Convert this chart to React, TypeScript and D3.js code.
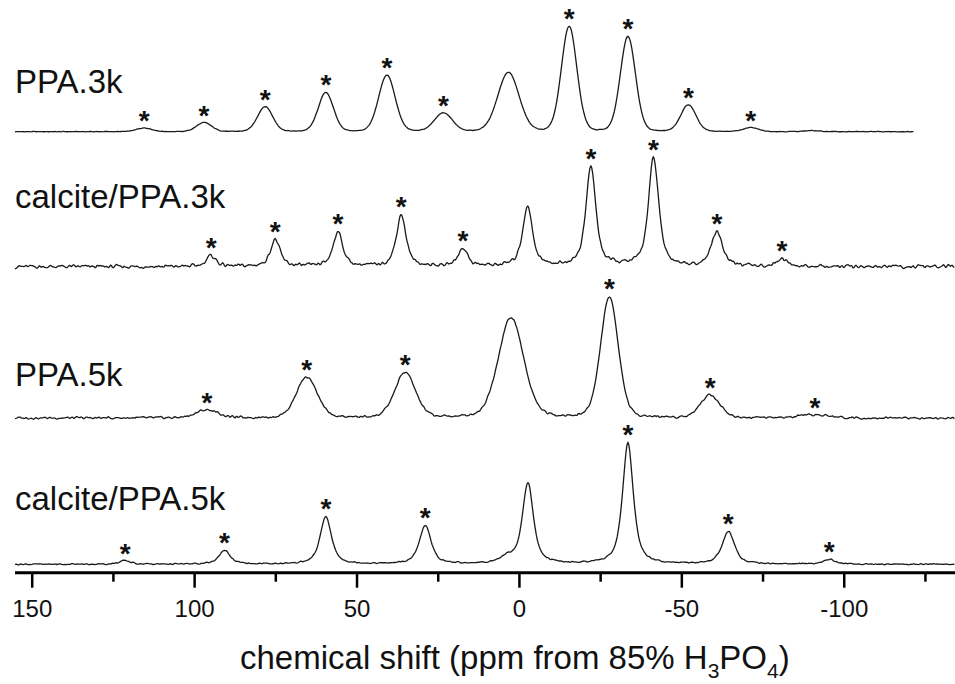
import React from 'react';
import * as d3 from 'd3';

// ---------- data ----------
const TRACE_NAMES = ['PPA.3k', 'calcite/PPA.3k', 'PPA.5k', 'calcite/PPA.5k'];

// PPA.3k
const PPA3K_SHIFT = [115.5, 97.1, 78.3, 59.6, 40.8, 23.4, 3.4, -15.3, -33.4, -52.0, -71.2, -89.9];
const PPA3K_HEIGHT = [3.7, 9, 25, 39, 56.4, 18.4, 59, 105, 95, 26.7, 4, 1];
const PPA3K_FWHM = [5.5, 5.5, 5.5, 5.5, 6.0, 6.5, 7.7, 5.6, 5.5, 5.5, 5.5, 5.5];
const PPA3K_SIDEBAND = [true, true, true, true, true, true, false, true, true, true, true, false];

// calcite/PPA.3k
const CAL3K_SHIFT = [94.9, 75.2, 55.9, 36.4, 17.4, -2.5, -22.0, -41.3, -60.8, -80.8];
const CAL3K_HEIGHT = [11, 27, 35, 52, 18, 60, 100, 109, 35, 8];
const CAL3K_FWHM = [3.5, 3.5, 3.5, 3.5, 3.5, 3.6, 3.6, 3.7, 4.0, 3.5];
const CAL3K_SIDEBAND = [true, true, true, true, true, false, true, true, true, true];

// PPA.5k
const PPA5K_SHIFT = [96.2, 65.5, 35.2, 2.6, -27.7, -58.7, -91.0];
const PPA5K_HEIGHT = [8, 41, 45, 100, 121, 23, 3];
const PPA5K_FWHM = [8, 7.5, 7.5, 9.2, 6.4, 7, 10];
const PPA5K_SIDEBAND = [true, true, true, false, true, true, true];

// calcite/PPA.5k
const CAL5K_SHIFT = [121.4, 90.8, 59.6, 29.0, 3.9, -2.6, -33.4, -64.3, -95.4];
const CAL5K_HEIGHT = [3.6, 14, 47.6, 38.6, 6, 81, 121.6, 32.6, 5];
const CAL5K_FWHM = [4, 4, 4.1, 4.2, 5, 4, 3.9, 4.5, 4];
const CAL5K_SIDEBAND = [true, true, true, true, false, false, true, true, true];

const MAJOR_TICKS = [150, 100, 50, 0, -50, -100];
const MINOR_TICKS = [125, 75, 25, -25, -75, -125];

// ---------- layout / style ----------
const W = 955;
const H = 684;
const X_LEFT = 15;
const X_RIGHT = 955;
const AXIS_Y = 572.7;
const FONT = "'Liberation Sans', Arial, Helvetica, sans-serif";

type Trace = {
  name: string;
  shift: number[];
  height: number[];
  fwhm: number[];
  sideband: boolean[];
  eta: number; // lorentzian fraction
  baseline: number; // pixel baseline
  labelY: number;
  end: number; // last ppm drawn
  noise: number;
  seed: number;
};

const TRACES: Trace[] = [
  { name: TRACE_NAMES[0], shift: PPA3K_SHIFT, height: PPA3K_HEIGHT, fwhm: PPA3K_FWHM, sideband: PPA3K_SIDEBAND, eta: 0.1, baseline: 131.7, labelY: 93, end: -121.5, noise: 0.35, seed: 1 },
  { name: TRACE_NAMES[1], shift: CAL3K_SHIFT, height: CAL3K_HEIGHT, fwhm: CAL3K_FWHM, sideband: CAL3K_SIDEBAND, eta: 0.7, baseline: 266.7, labelY: 208.3, end: -134.1, noise: 2.4, seed: 2 },
  { name: TRACE_NAMES[2], shift: PPA5K_SHIFT, height: PPA5K_HEIGHT, fwhm: PPA5K_FWHM, sideband: PPA5K_SIDEBAND, eta: 0.2, baseline: 418, labelY: 386, end: -134.1, noise: 1.6, seed: 3 },
  { name: TRACE_NAMES[3], shift: CAL5K_SHIFT, height: CAL5K_HEIGHT, fwhm: CAL5K_FWHM, sideband: CAL5K_SIDEBAND, eta: 0.7, baseline: 564.3, labelY: 510, end: -134.1, noise: 0.9, seed: 4 },
];

const xScale = d3.scaleLinear().domain([155.3, -134.1]).range([X_LEFT, X_RIGHT]);

function lineShape(x: number, x0: number, h: number, w: number, eta: number) {
  const u = (x - x0) / (w / 2);
  const L = 1 / (1 + u * u);
  const G = Math.exp(-Math.LN2 * u * u);
  return h * (eta * L + (1 - eta) * G);
}

function intensity(t: Trace, ppm: number) {
  let s = 0;
  for (let i = 0; i < t.shift.length; i++) s += lineShape(ppm, t.shift[i], t.height[i], t.fwhm[i], t.eta);
  return s;
}

// deterministic texture for the baseline noise
function hash(i: number, seed: number) {
  const v = Math.sin(i * 12.9898 + seed * 78.233) * 43758.5453;
  return v - Math.floor(v) - 0.5;
}

function buildTrace(t: Trace) {
  const step = 0.3;
  const pts = d3.range(155.3, t.end - 1e-6, -step);
  const raw = pts.map((_, i) => hash(i, t.seed));
  const smooth = raw.map((_, i) => {
    const a = raw[Math.max(0, i - 1)], b = raw[i], c = raw[Math.min(raw.length - 1, i + 1)];
    return (a + 2 * b + c) / 4;
  });
  return pts.map((p, i) => [p, intensity(t, p) + smooth[i] * t.noise * 2] as [number, number]);
}

export default function App() {
  return (
    <svg
      width={W}
      height={H}
      viewBox={`0 0 ${W} ${H}`}
      style={{ position: 'absolute', left: 0, top: 0, background: '#fff' }}
      fontFamily={FONT}
    >
      <rect x={0} y={0} width={W} height={H} fill="#fff" />
      {TRACES.map((t) => {
        const yScale = d3.scaleLinear().domain([0, 100]).range([t.baseline, t.baseline - 100]);
        const line = d3
          .line<[number, number]>()
          .x((d) => xScale(d[0]))
          .y((d) => yScale(d[1]));
        const data = buildTrace(t);
        return (
          <g key={t.name}>
            <path d={line(data) || ''} fill="none" stroke="#1a1a1a" strokeWidth={1.3} strokeLinejoin="round" />
            <text x={X_LEFT} y={t.labelY} fontSize={33} fill="#111">
              {t.name}
            </text>
            {t.shift.map((s, i) =>
              t.sideband[i] ? (
                <text
                  key={i}
                  x={xScale(s)}
                  y={yScale(intensity(t, s)) + 2}
                  fontSize={28}
                  fontWeight="bold"
                  textAnchor="middle"
                  fill="#111"
                >
                  *
                </text>
              ) : null
            )}
          </g>
        );
      })}

      {/* x axis */}
      <line x1={X_LEFT} x2={X_RIGHT} y1={AXIS_Y} y2={AXIS_Y} stroke="#000" strokeWidth={3} />
      {MAJOR_TICKS.map((v) => (
        <g key={v}>
          <line x1={xScale(v)} x2={xScale(v)} y1={AXIS_Y} y2={AXIS_Y + 15} stroke="#000" strokeWidth={2.5} />
          <text x={xScale(v)} y={617} fontSize={24} textAnchor="middle" fill="#111">
            {v}
          </text>
        </g>
      ))}
      {MINOR_TICKS.map((v) => (
        <line key={v} x1={xScale(v)} x2={xScale(v)} y1={AXIS_Y} y2={AXIS_Y + 9} stroke="#000" strokeWidth={2.5} />
      ))}
      <text x={240} y={669} fontSize={33} fill="#111">
        chemical shift (ppm from 85% H
        <tspan fontSize={21} dy={9}>3</tspan>
        <tspan dy={-9}>PO</tspan>
        <tspan fontSize={21} dy={9}>4</tspan>
        <tspan dy={-9}>)</tspan>
      </text>
    </svg>
  );
}
